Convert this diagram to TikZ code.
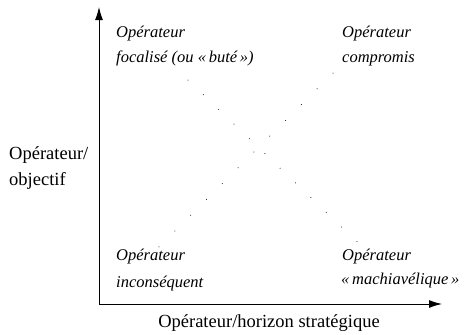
\documentclass[tikz,border=0pt]{standalone}
\usepackage{fontspec}
\setmainfont{Liberation Serif}
\usetikzlibrary{arrows.meta}
\begin{document}
\begin{tikzpicture}[x=1pt,y=-1pt,
  lbl/.style={inner sep=0pt,font=\fontsize{16.5}{25}\selectfont\itshape,align=left},
  axlbl/.style={inner sep=0pt,font=\fontsize{18.5}{25}\selectfont},
  axis/.style={line width=1pt,-{Latex[length=13pt,width=8pt]}},
  dotmark/.style={fill=black,draw=none}]
\useasboundingbox (0,0) rectangle (467,335);
\coordinate (O) at (99,304);
\coordinate (Ytip) at (99,7);
\coordinate (Xtip) at (442,304);
\draw[axis] (O) -- (Ytip);
\draw[axis] (O) -- (Xtip);
\node[lbl,anchor=base west] (tl1) at (116,37) {Opérateur};
\node[lbl,anchor=base west] (tl2) at (116,62) {focalisé (ou «\,buté\,»)};
\node[lbl,anchor=base west] (tr1) at (342,37) {Opérateur};
\node[lbl,anchor=base west] (tr2) at (342,62) {compromis};
\node[lbl,anchor=base west] (bl1) at (116,260) {Opérateur};
\node[lbl,anchor=base west] (bl2) at (116,287) {inconséquent};
\node[lbl,anchor=base west] (br1) at (342,260) {Opérateur};
\node[lbl,anchor=base west] (br2) at (341,284) {«\,machiavélique\,»};
\node[axlbl,anchor=base west] (yl1) at (9,159) {Opérateur/};
\node[axlbl,anchor=base west] (yl2) at (9,185) {objectif};
\node[axlbl,anchor=base] (xl) at (269,327) {Opérateur/horizon stratégique};
\foreach \i in {0,...,11} {
  \fill[dotmark] ({188+\i*15.36},{80+\i*14.7}) circle (0.5pt);
  \fill[dotmark] ({333-\i*15.82},{73+\i*15.8}) circle (0.5pt);
}
\end{tikzpicture}
\end{document}
